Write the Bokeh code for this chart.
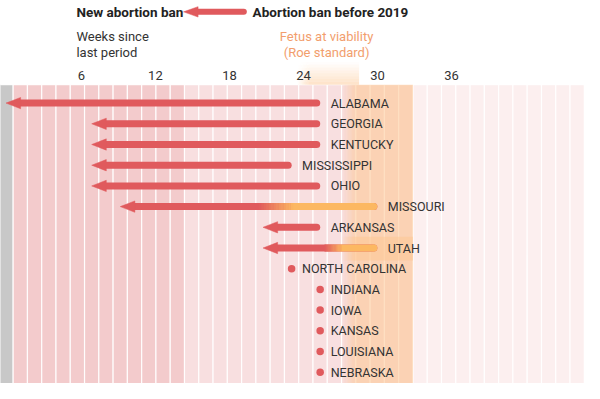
from bokeh.plotting import figure
from bokeh.models import Range1d
from bokeh.core.properties import value
from bokeh.embed import file_html
from bokeh.resources import INLINE

# ---------------- data ----------------
states = ["ALABAMA", "GEORGIA", "KENTUCKY", "MISSISSIPPI", "OHIO", "MISSOURI",
          "ARKANSAS", "UTAH", "NORTH CAROLINA", "INDIANA", "IOWA", "KANSAS",
          "LOUISIANA", "NEBRASKA"]
prior_ban_weeks = [22, 22, 22, 20, 22, 26, 22, 26, 20, 22, 22, 22, 22, 22]
new_ban_weeks = [0, 6, 6, 6, 6, 8, 18, 18, None, None, None, None, None, None]
# where the line fades from red to orange (viability-based prior bans)
fade_from = [None, None, None, None, None, 17.7, None, 22.3, None, None, None, None, None, None]
fade_to = [None, None, None, None, None, 20.1, None, 23.5, None, None, None, None, None, None]
tick_weeks = [6, 12, 18, 24, 30, 36]
all_weeks = list(range(0, 41))
viability = (23.5, 28.5)
first_trimester_end = 12
second_band_end = 28

# ---------------- layout constants ----------------
W, H = 584, 383
REF_W, REF_H = 600, 399
X0, SX = 5.67, 14.67      # main scale: px per week
HX0, HSX = 7.0, 12.68     # header scale
Y0, SY = 108.5, 21.89     # rows
BOT_PAD = 6

RED = "#e05a5d"
ORANGE = "#fcb862"
BAND = "#fdc690"
TXT = "#333333"
FONT = value("Roboto")

p = figure(width=W, height=H, output_backend="svg", toolbar_location=None,
           x_range=Range1d((0 - X0) / SX, (REF_W - X0) / SX),
           y_range=Range1d((REF_H + BOT_PAD - Y0) / SY, (0 - Y0) / SY),
           x_axis_type=None, y_axis_type=None, min_border=0)
p.extra_x_ranges = {"hx": Range1d((0 - HX0) / HSX, (REF_W - HX0) / HSX),
                    "px": Range1d(0, REF_W)}
p.extra_y_ranges = {"py": Range1d(REF_H + BOT_PAD, 0)}
p.grid.visible = False
p.outline_line_color = None
p.background_fill_color = "white"
p.border_fill_color = "white"

top_row = (89 - Y0) / SY
bottom_row = (REF_H + 20 - Y0) / SY

# ---------------- stripes ----------------
cols = []
for w in all_weeks:
    if w == 0:
        cols.append("#c8c8c8")
    elif w <= first_trimester_end:
        cols.append("#f3cbcc")
    elif w <= second_band_end:
        cols.append("#f8dfe0")
    else:
        cols.append("#fcefef")
p.quad(left=[w - 0.5 for w in all_weeks], right=[w + 0.5 for w in all_weeks],
       top=top_row, bottom=bottom_row, fill_color=cols,
       line_color="white", line_width=1.2, line_alpha=0.9)

# ---------------- viability band (main) ----------------
v0, v1 = viability
nf = 10
fade_w = 0.9
for i in range(nf):
    a = (i + 0.5) / nf
    p.quad(left=v0 + fade_w * i / nf, right=v0 + fade_w * (i + 1) / nf,
           top=top_row, bottom=bottom_row, fill_color=BAND, fill_alpha=0.55 * a,
           line_color=None)
p.quad(left=v0 + fade_w, right=v1, top=top_row, bottom=bottom_row,
       fill_color=BAND, fill_alpha=0.55, line_color=None)

# Utah row highlight
ui = states.index("UTAH")
for i in range(nf):
    a = (i + 0.5) / nf
    p.quad(left=v0 + fade_w * i / nf, right=v0 + fade_w * (i + 1) / nf,
           top=ui - 0.55, bottom=ui + 0.6, fill_color=BAND, fill_alpha=0.5 * a,
           line_color=None)
p.quad(left=v0 + fade_w, right=v1, top=ui - 0.55, bottom=ui + 0.6,
       fill_color=BAND, fill_alpha=0.5, line_color=None)

# ---------------- header glow ----------------
nv = 8
for j in range(nv):
    av = (j + 0.5) / nv
    yt = 65 + 24 * j / nv
    yb = 65 + 24 * (j + 1) / nv
    for i in range(nf):
        ah = (i + 0.5) / nf
        p.quad(left=v0 + fade_w * i / nf, right=v0 + fade_w * (i + 1) / nf,
               top=yt, bottom=yb, fill_color=BAND, fill_alpha=0.5 * av * ah,
               line_color=None, x_range_name="hx", y_range_name="py")
    p.quad(left=v0 + fade_w, right=v1, top=yt, bottom=yb, fill_color=BAND,
           fill_alpha=0.5 * av, line_color=None, x_range_name="hx", y_range_name="py")

# ---------------- arrows ----------------
HL = 15 / SX
HH = 6 / SY
CAP = 3.5 / SX
LW = 7
rows = list(range(len(states)))
for r, s, pb, nb, f0, f1 in zip(rows, states, prior_ban_weeks, new_ban_weeks, fade_from, fade_to):
    if nb is None:
        continue
    end = pb - CAP
    p.segment(x0=nb + HL * 0.8, y0=r, x1=end, y1=r, line_color=RED,
              line_width=LW, line_cap="round")
    if f0 is not None:
        ng = 14
        for k in range(ng):
            t = (k + 0.5) / ng
            c0 = (0xe0, 0x5a, 0x5d)
            c1 = (0xfc, 0xb8, 0x62)
            col = "#%02x%02x%02x" % tuple(int(c0[m] + (c1[m] - c0[m]) * t) for m in range(3))
            p.segment(x0=f0 + (f1 - f0) * k / ng, y0=r, x1=f0 + (f1 - f0) * (k + 1) / ng + 0.02,
                      y1=r, line_color=col, line_width=LW, line_cap="butt")
        p.segment(x0=f1, y0=r, x1=end, y1=r, line_color=ORANGE, line_width=LW, line_cap="butt")
        p.scatter(x=[end], y=[r], size=LW, color=ORANGE, line_color=None)
    p.patch(x=[nb, nb + HL, nb + HL], y=[r, r - HH, r + HH], fill_color=RED, line_color=RED,
            line_width=0.5)

# dots for states without a new ban
dot_x = [pb for pb, nb in zip(prior_ban_weeks, new_ban_weeks) if nb is None]
dot_y = [r for r, nb in zip(rows, new_ban_weeks) if nb is None]
p.scatter(x=dot_x, y=dot_y, size=7.5, color=RED, line_color=None)

# state labels
p.text(x=prior_ban_weeks, y=rows, text=states, x_offset=10.5, text_baseline="middle",
       text_align="left", text_font=FONT, text_font_size="12.5px", text_color=TXT)

# ---------------- header ----------------
p.text(x=[78], y=[12.5], text=["New abortion ban"], text_font=FONT, text_font_size="13.5px",
       text_font_style="bold", text_color="#222222", text_baseline="middle",
       x_range_name="px", y_range_name="py")
p.text(x=[259], y=[12.5], text=["Abortion ban before 2019"], text_font=FONT,
       text_font_size="13.5px", text_font_style="bold", text_color="#222222",
       text_baseline="middle", x_range_name="px", y_range_name="py")
p.segment(x0=[199], y0=[12], x1=[250], y1=[12], line_color=RED, line_width=6, line_cap="round",
          x_range_name="px", y_range_name="py")
p.patch(x=[188, 203, 203], y=[12, 6.5, 17.5], fill_color=RED, line_color=RED, line_width=0.5,
        x_range_name="px", y_range_name="py")

p.text(x=[78, 78], y=[38, 55], text=["Weeks since", "last period"], text_font=FONT,
       text_font_size="13px", text_color=TXT, text_baseline="middle",
       x_range_name="px", y_range_name="py")
p.text(x=[335, 335], y=[38, 55], text=["Fetus at viability", "(Roe standard)"], text_font=FONT,
       text_font_size="13px", text_color="#f29e6d", text_baseline="middle", text_align="center",
       x_range_name="px", y_range_name="py")

p.text(x=tick_weeks, y=[79.5] * len(tick_weeks), text=[str(t) for t in tick_weeks],
       text_font=FONT, text_font_size="13px", text_color=TXT, text_baseline="middle",
       text_align="center", x_range_name="hx", y_range_name="py")

open("out.html", "w").write(file_html(p, INLINE))
